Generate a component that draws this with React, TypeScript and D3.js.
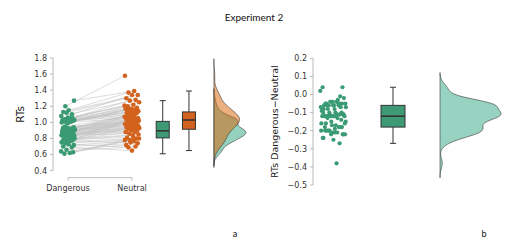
import React from "react";
import * as d3 from "d3";

const title = "Experiment 2";
const categories = ["Dangerous", "Neutral"];
const leftTicks = [0.4, 0.6, 0.8, 1.0, 1.2, 1.4, 1.6, 1.8];
const rightTicks = [0.2, 0.1, 0.0, -0.1, -0.2, -0.3, -0.4, -0.5];

const dangerous = [
  1.20, 1.27, 1.15, 1.13, 1.10, 1.12, 1.08, 1.05, 1.04, 1.02,
  1.06, 1.03, 1.01, 1.04, 1.03, 1.02, 1.02, 1.05, 1.01, 1.00,
  1.03, 0.95, 0.94, 1.02, 0.93, 0.92, 1.00, 0.91, 0.90, 0.94,
  0.89, 0.93, 0.88, 0.92, 0.87, 0.91, 0.86, 0.90, 0.85, 0.89,
  0.84, 0.88, 0.83, 0.87, 0.82, 0.86, 0.81, 0.85, 0.80, 0.84,
  0.79, 0.78, 0.80, 0.76, 0.77, 0.74, 0.72, 0.73, 0.70, 0.69,
  0.66, 0.64, 0.62, 0.61, 0.63, 0.99, 0.90, 0.88, 0.86, 0.83,
  0.82, 0.80, 0.78, 0.76, 0.75, 1.01, 1.04, 0.93, 0.91, 0.87,
];
const neutral = [
  1.58, 1.39, 1.37, 1.34, 1.34, 1.30, 1.28, 1.27, 1.25, 1.22,
  1.20, 1.18, 1.17, 1.17, 1.16, 1.13, 1.14, 1.13, 1.12, 1.11,
  1.10, 1.07, 1.06, 1.07, 1.05, 1.04, 1.05, 1.03, 1.02, 1.02,
  1.01, 1.00, 1.00, 0.99, 0.98, 0.97, 0.97, 0.96, 0.95, 0.94,
  0.94, 0.93, 0.93, 0.92, 0.92, 0.90, 0.90, 0.88, 0.88, 0.86,
  0.85, 0.84, 0.81, 0.80, 0.75, 0.78, 0.77, 0.69, 0.74, 0.65,
  0.72, 0.70, 0.78, 0.80, 0.81, 1.17, 1.12, 1.08, 1.07, 1.03,
  1.04, 1.05, 1.02, 1.03, 0.95, 1.16, 1.21, 1.09, 1.09, 1.04,
];

const GREEN = "#1b9e77";
const ORANGE = "#d95f02";
const DOT_GREEN = "#3a9a74";
const DOT_ORANGE = "#d2621c";
const FONT = "DejaVu Sans";

// deterministic low-discrepancy jitter in [-0.5, 0.5)
const jit = (i: number) => ((i * 0.6180339887 + 0.31) % 1) - 0.5;

function kde(values: number[], bw: number, n = 160) {
  const lo = d3.min(values)! - 3 * bw;
  const hi = d3.max(values)! + 3 * bw;
  const grid = d3.range(n + 1).map((k) => lo + ((hi - lo) * k) / n);
  return grid.map((g) => {
    const s = d3.sum(values, (v) => Math.exp(-0.5 * ((g - v) / bw) ** 2));
    return [g, s / (values.length * bw * Math.sqrt(2 * Math.PI))] as [number, number];
  });
}

function boxStats(values: number[]) {
  const s = [...values].sort(d3.ascending);
  const q1 = d3.quantile(s, 0.25)!;
  const med = d3.quantile(s, 0.5)!;
  const q3 = d3.quantile(s, 0.75)!;
  const iqr = q3 - q1;
  const lo = d3.min(s.filter((v) => v >= q1 - 1.5 * iqr))!;
  const hi = d3.max(s.filter((v) => v <= q3 + 1.5 * iqr))!;
  return { q1, med, q3, lo, hi };
}

function Box({ values, cx, w, y, fill }: { values: number[]; cx: number; w: number; y: d3.ScaleLinear<number, number>; fill: string }) {
  const b = boxStats(values);
  const cap = 5;
  return (
    <g stroke="#333" strokeWidth={1}>
      <line x1={cx} x2={cx} y1={y(b.hi)} y2={y(b.q3)} />
      <line x1={cx} x2={cx} y1={y(b.q1)} y2={y(b.lo)} />
      <line x1={cx - cap / 2 - 0.5} x2={cx + cap / 2 + 0.5} y1={y(b.hi)} y2={y(b.hi)} />
      <line x1={cx - cap / 2 - 0.5} x2={cx + cap / 2 + 0.5} y1={y(b.lo)} y2={y(b.lo)} />
      <rect x={cx - w / 2} width={w} y={y(b.q3)} height={y(b.q1) - y(b.q3)} fill={fill} />
      <line x1={cx - w / 2} x2={cx + w / 2} y1={y(b.med)} y2={y(b.med)} strokeWidth={1.6} />
    </g>
  );
}

function YAxis({ y, ticks, x, label, labelX, labelSize }: { y: d3.ScaleLinear<number, number>; ticks: number[]; x: number; label: string; labelX: number; labelSize: number }) {
  const fmt = d3.format(".1f");
  const [r0, r1] = [y(ticks[0]), y(ticks[ticks.length - 1])];
  return (
    <g>
      <line x1={x} x2={x} y1={r0} y2={r1} stroke="#aaa" strokeWidth={0.8} />
      {ticks.map((t) => (
        <g key={t}>
          <line x1={x - 3} x2={x} y1={y(t)} y2={y(t)} stroke="#aaa" strokeWidth={0.8} />
          <text x={x - 6} y={y(t)} dy="0.35em" textAnchor="end" fontSize={8} fontFamily={FONT} fill="#333">
            {fmt(t)}
          </text>
        </g>
      ))}
      <text
        transform={`translate(${labelX},${(r0 + r1) / 2}) rotate(-90)`}
        textAnchor="middle"
        dy="0.35em"
        fontSize={labelSize}
        fontFamily={FONT}
        fill="#222"
      >
        {label}
      </text>
    </g>
  );
}

export default function App() {
  const W = 520, H = 249;
  // left panel
  const yL = d3.scaleLinear().domain([0.4, 1.8]).range([170.7, 58]);
  const xL = d3.scaleLinear().domain([0, 1]).range([68, 132]);
  const dDens = kde(dangerous, 0.05);
  const nDens = kde(neutral, 0.07);
  const maxL = d3.max([...dDens, ...nDens], (d) => d[1])!;
  const baseL = xL(2.28);
  const wL = d3.scaleLinear().domain([0, maxL]).range([0, 32]);
  const areaL = d3
    .area<[number, number]>()
    .y((d) => yL(d[0]))
    .x0(baseL)
    .x1((d) => baseL + wL(d[1]))
    .curve(d3.curveBasis);

  // right panel
  const diff = dangerous.map((v, i) => v - neutral[i]);
  const yR = d3.scaleLinear().domain([-0.5, 0.2]).range([185, 58.3]);
  const rDens = kde(diff, 0.027);
  const maxR = d3.max(rDens, (d) => d[1])!;
  const baseR = 440;
  const wR = d3.scaleLinear().domain([0, maxR]).range([0, 61]);
  const areaR = d3
    .area<[number, number]>()
    .y((d) => yR(d[0]))
    .x0(baseR)
    .x1((d) => baseR + wR(d[1]))
    .curve(d3.curveBasis);

  return (
    <svg width={W} height={H} style={{ position: "absolute", left: 0, top: 0, background: "#fff" }}>
      <text x={254} y={21} textAnchor="middle" fontSize={10} fontFamily="Lato" fill="#111">
        {title}
      </text>

      {/* Left panel */}
      <YAxis y={yL} ticks={[...leftTicks].reverse()} x={53} label="RTs" labelX={20} labelSize={10.5} />
      <g>
        <line x1={xL(0)} x2={xL(1)} y1={177.7} y2={177.7} stroke="#aaa" strokeWidth={0.8} />
        {categories.map((c, i) => (
          <g key={c}>
            <line x1={xL(i)} x2={xL(i)} y1={177.7} y2={180.7} stroke="#aaa" strokeWidth={0.8} />
            <text x={xL(i)} y={191} textAnchor="middle" fontSize={8} fontFamily={FONT} fill="#333">
              {c}
            </text>
          </g>
        ))}
      </g>
      <g stroke="#c4c4c4" strokeWidth={0.6}>
        {dangerous.map((v, i) => (
          <line key={i} x1={xL(0) + jit(i) * 14} y1={yL(v)} x2={xL(1) + jit(i + 40) * 15} y2={yL(neutral[i])} />
        ))}
      </g>
      {dangerous.map((v, i) => (
        <circle key={"d" + i} cx={xL(0) + jit(i) * 14} cy={yL(v)} r={2.3} fill={DOT_GREEN} />
      ))}
      {neutral.map((v, i) => (
        <circle key={"n" + i} cx={xL(1) + jit(i + 40) * 15} cy={yL(v)} r={2.3} fill={DOT_ORANGE} />
      ))}
      <Box values={dangerous} cx={xL(1.48)} w={13} y={yL} fill="#3d9a75" />
      <Box values={neutral} cx={xL(1.89)} w={13} y={yL} fill="#d2621f" />
      <path d={areaL(dDens) ?? ""} fill={GREEN} fillOpacity={0.47} stroke="#333" strokeWidth={0.6} />
      <path d={areaL(nDens) ?? ""} fill={ORANGE} fillOpacity={0.5} stroke="#333" strokeWidth={0.6} />

      {/* Right panel */}
      <YAxis y={yR} ticks={[...rightTicks]} x={313} label="RTs Dangerous−Neutral" labelX={275} labelSize={9.5} />
      {diff.map((v, i) => (
        <circle key={"r" + i} cx={333 + jit(i + 7) * 26} cy={yR(v)} r={2.1} fill={DOT_GREEN} />
      ))}
      <Box values={diff} cx={393} w={24} y={yR} fill="#3d9a75" />
      <path d={areaR(rDens) ?? ""} fill={GREEN} fillOpacity={0.45} stroke="#333" strokeWidth={0.6} />

      <text x={235} y={237} textAnchor="middle" fontSize={9} fontFamily="Lato" fill="#111">a</text>
      <text x={484} y={237} textAnchor="middle" fontSize={9} fontFamily="Lato" fill="#111">b</text>
    </svg>
  );
}
